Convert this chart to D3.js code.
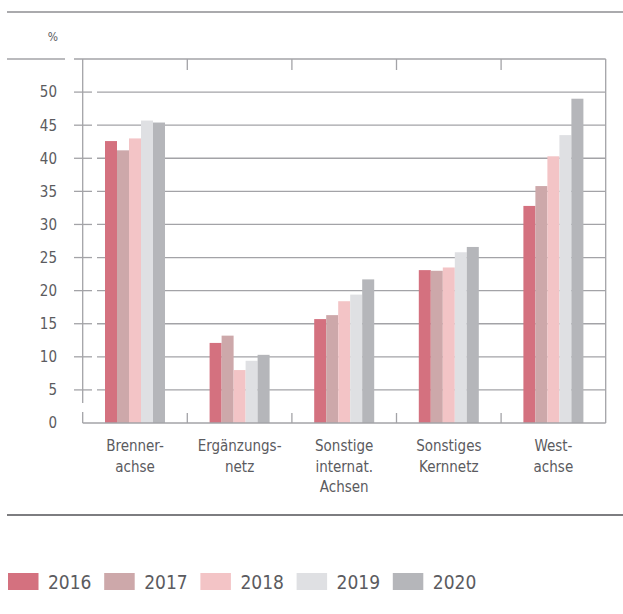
<!DOCTYPE html>
<html>
<head>
<meta charset="utf-8">
<script src="https://cdn.jsdelivr.net/npm/d3@7"></script>
<style>
  html, body { margin: 0; padding: 0; background: #fff; }
  svg { display: block; }
  text { font-family: "DejaVu Sans Condensed", "Liberation Sans Narrow", sans-serif; fill: #5b5b60; }
</style>
</head>
<body>
<svg id="chart" width="623" height="614"></svg>
<script>
// Category labels (line breaks as printed)
const categories = ["Brennerachse", "Ergänzungsnetz", "Sonstige internat. Achsen", "Sonstiges Kernnetz", "Westachse"];
const categoryLines = [["Brenner-", "achse"], ["Ergänzungs-", "netz"], ["Sonstige", "internat.", "Achsen"], ["Sonstiges", "Kernnetz"], ["West-", "achse"]];
const years = ["2016", "2017", "2018", "2019", "2020"];
// Share in % per category, one array per year
const v2016 = [42.6, 12.1, 15.7, 23.1, 32.8];
const v2017 = [41.2, 13.2, 16.3, 23.0, 35.8];
const v2018 = [43.0, 8.0, 18.4, 23.5, 40.3];
const v2019 = [45.7, 9.4, 19.4, 25.8, 43.5];
const v2020 = [45.4, 10.3, 21.7, 26.6, 49.0];
const yTicks = [0, 5, 10, 15, 20, 25, 30, 35, 40, 45, 50];
const colors = ["#d4717f", "#cda8aa", "#f3c4c6", "#dfe0e3", "#b5b6ba"];

const series = [v2016, v2017, v2018, v2019, v2020];
const svg = d3.select("#chart");
const lineCol = "#a3a3a7";

const plotL = 82.7, plotR = 605.7, plotT = 59, plotB = 423;
const x = d3.scaleBand().domain(categories).range([plotL, plotR]).padding(0);
const bw = x.bandwidth();
const xi = d3.scaleBand().domain(years).range([bw / 2 - 30, bw / 2 + 30]).padding(0);
const y = d3.scaleLinear().domain([0, 55]).range([plotB, plotT]);

// outer rules
svg.append("line").attr("x1", 7).attr("x2", 623).attr("y1", 12).attr("y2", 12)
  .attr("stroke", "#8e8e92").attr("stroke-width", 1.6);
svg.append("line").attr("x1", 7).attr("x2", 623).attr("y1", 515).attr("y2", 515)
  .attr("stroke", "#7d7d80").attr("stroke-width", 1.8);
svg.append("line").attr("x1", 7).attr("x2", 65).attr("y1", plotT).attr("y2", plotT)
  .attr("stroke", lineCol).attr("stroke-width", 1.3);

// unit
svg.append("text").attr("x", 53).attr("y", 41).attr("text-anchor", "middle")
  .attr("font-size", 12).text("%");

// gridlines
const g = svg.append("g");
yTicks.filter(t => t > 0).forEach(t => {
  g.append("line").attr("x1", 97).attr("x2", plotR).attr("y1", y(t)).attr("y2", y(t))
    .attr("stroke", lineCol).attr("stroke-width", 1.3);
  g.append("line").attr("x1", 74).attr("x2", 92).attr("y1", y(t)).attr("y2", y(t))
    .attr("stroke", lineCol).attr("stroke-width", 1.3);
});

// y axis labels
svg.append("g").selectAll("text").data(yTicks).join("text")
  .attr("x", 57).attr("y", d => y(d)).attr("dy", "0.36em")
  .attr("text-anchor", "end").attr("font-size", 15).text(d => d);

// bars
const groups = svg.append("g").selectAll("g").data(categories).join("g")
  .attr("transform", d => `translate(${x(d)},0)`);
groups.selectAll("rect").data((c, ci) => years.map((yr, yi) => ({ yr, yi, v: series[yi][ci] })))
  .join("rect")
  .attr("x", d => xi(d.yr)).attr("width", xi.bandwidth())
  .attr("y", d => y(d.v)).attr("height", d => y(0) - y(d.v))
  .attr("fill", d => colors[d.yi]);

// frame
const f = svg.append("g").attr("stroke", lineCol).attr("stroke-width", 1.3).attr("fill", "none");
f.append("line").attr("x1", 74).attr("x2", plotR).attr("y1", plotT).attr("y2", plotT);
f.append("line").attr("x1", plotR).attr("x2", plotR).attr("y1", plotT).attr("y2", plotB);
f.append("line").attr("x1", plotL).attr("x2", plotR).attr("y1", plotB).attr("y2", plotB);
f.append("line").attr("x1", plotL).attr("x2", plotL).attr("y1", plotT).attr("y2", 403);
f.append("line").attr("x1", plotL).attr("x2", plotL).attr("y1", 412).attr("y2", plotB);
// category separators
categories.slice(1).forEach(c => {
  f.append("line").attr("x1", x(c)).attr("x2", x(c)).attr("y1", plotT).attr("y2", plotT + 11);
  f.append("line").attr("x1", x(c)).attr("x2", x(c)).attr("y1", plotB - 10).attr("y2", plotB);
});

// category labels
const lab = svg.append("g").selectAll("text").data(categories).join("text")
  .attr("text-anchor", "middle").attr("font-size", 15)
  .attr("transform", d => `translate(${x(d) + bw / 2},0)`);
lab.selectAll("tspan").data((d, i) => categoryLines[i]).join("tspan")
  .attr("x", 0).attr("y", (d, i) => 451 + i * 20.5).text(d => d);

// legend
const lg = svg.append("g").selectAll("g").data(years).join("g")
  .attr("transform", (d, i) => `translate(${8 + i * 96.2},573)`);
lg.append("rect").attr("width", 30.5).attr("height", 17).attr("fill", (d, i) => colors[i]);
lg.append("text").attr("x", 40).attr("y", 15.5).attr("font-size", 19).text(d => d);
</script>
</body>
</html>
